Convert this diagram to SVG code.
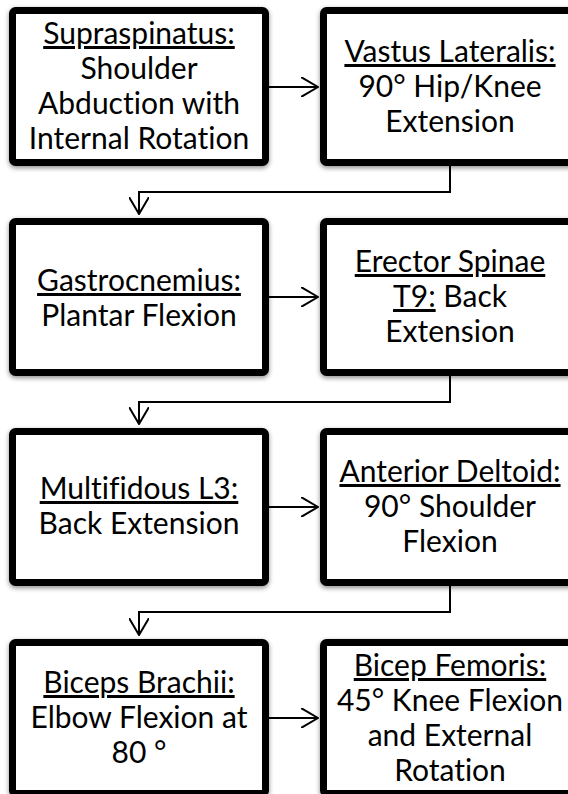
<svg xmlns="http://www.w3.org/2000/svg" width="568" height="794" viewBox="0 0 568 794">
<defs>
<style>
.box{fill:#fff;stroke:#000;stroke-width:7}
.t{font-family:Lato,"Open Sans","Liberation Sans",sans-serif;font-size:30px;fill:#000;text-anchor:middle;font-variant-ligatures:none;font-feature-settings:"liga" 0}
.u{text-decoration:underline}
.c{fill:none;stroke:#000;stroke-width:2}
</style>
<filter id="sh" x="-10%" y="-10%" width="120%" height="125%">
<feGaussianBlur in="SourceAlpha" stdDeviation="2.5"/>
<feOffset dx="0" dy="2" result="b"/>
<feComponentTransfer><feFuncA type="linear" slope="0.45"/></feComponentTransfer>
<feMerge><feMergeNode/><feMergeNode in="SourceGraphic"/></feMerge>
</filter>
<marker id="ah" viewBox="0 0 18 20" refX="17" refY="10" markerWidth="18" markerHeight="20" markerUnits="userSpaceOnUse" orient="auto">
<path d="M0,0 L17,10 L0,20" fill="none" stroke="#000" stroke-width="2"/>
</marker>
</defs>
<rect width="568" height="794" fill="#fff"/>

<g id="n1">
<rect class="box" x="12.5" y="10.5" width="253" height="152" rx="3" filter="url(#sh)"/>
<text class="t" x="139" y="44"><tspan class="u">Supraspinatus:</tspan><tspan x="139" dy="35">Shoulder</tspan><tspan x="139" dy="35">Abduction with</tspan><tspan x="139" dy="35">Internal Rotation</tspan></text>
</g>
<g id="n2">
<rect class="box" x="323.5" y="10.5" width="253" height="152" rx="3" filter="url(#sh)"/>
<text class="t" x="450" y="62"><tspan class="u">Vastus Lateralis:</tspan><tspan x="450" dy="35">90° Hip/Knee</tspan><tspan x="450" dy="35">Extension</tspan></text>
</g>
<g id="n3">
<rect class="box" x="12.5" y="221.5" width="253" height="151" rx="3" filter="url(#sh)"/>
<text class="t" x="139" y="291"><tspan class="u">Gastrocnemius:</tspan><tspan x="139" dy="35">Plantar Flexion</tspan></text>
</g>
<g id="n4">
<rect class="box" x="323.5" y="221.5" width="253" height="151" rx="3" filter="url(#sh)"/>
<text class="t" x="450" y="272"><tspan class="u">Erector Spinae</tspan><tspan x="450" dy="35"><tspan class="u">T9:</tspan> Back</tspan><tspan x="450" dy="35">Extension</tspan></text>
</g>
<g id="n5">
<rect class="box" x="12.5" y="431.5" width="253" height="151" rx="3" filter="url(#sh)"/>
<text class="t" x="139" y="499"><tspan class="u">Multifidous L3:</tspan><tspan x="139" dy="35">Back Extension</tspan></text>
</g>
<g id="n6">
<rect class="box" x="323.5" y="431.5" width="253" height="151" rx="3" filter="url(#sh)"/>
<text class="t" x="450" y="482"><tspan class="u">Anterior Deltoid:</tspan><tspan x="450" dy="35">90° Shoulder</tspan><tspan x="450" dy="35">Flexion</tspan></text>
</g>
<g id="n7">
<rect class="box" x="12.5" y="642.5" width="253" height="151" rx="3" filter="url(#sh)"/>
<text class="t" x="139" y="693"><tspan class="u">Biceps Brachii:</tspan><tspan x="139" dy="35">Elbow Flexion at</tspan><tspan x="139" dy="35">80 °</tspan></text>
</g>
<g id="n8">
<rect class="box" x="323.5" y="642.5" width="253" height="151" rx="3" filter="url(#sh)"/>
<text class="t" x="450" y="676"><tspan class="u">Bicep Femoris:</tspan><tspan x="450" dy="35">45° Knee Flexion</tspan><tspan x="450" dy="35">and External</tspan><tspan x="450" dy="35">Rotation</tspan></text>
</g>

<g id="connectors">
<line class="c" x1="269" y1="87" x2="318" y2="87" marker-end="url(#ah)"/>
<line class="c" x1="269" y1="297" x2="318" y2="297" marker-end="url(#ah)"/>
<line class="c" x1="269" y1="507" x2="318" y2="507" marker-end="url(#ah)"/>
<line class="c" x1="269" y1="718" x2="318" y2="718" marker-end="url(#ah)"/>
<path class="c" d="M450,166 V192 H139 V214" marker-end="url(#ah)"/>
<path class="c" d="M450,376 V402 H139 V424" marker-end="url(#ah)"/>
<path class="c" d="M450,586 V612 H139 V635" marker-end="url(#ah)"/>
</g>
</svg>
